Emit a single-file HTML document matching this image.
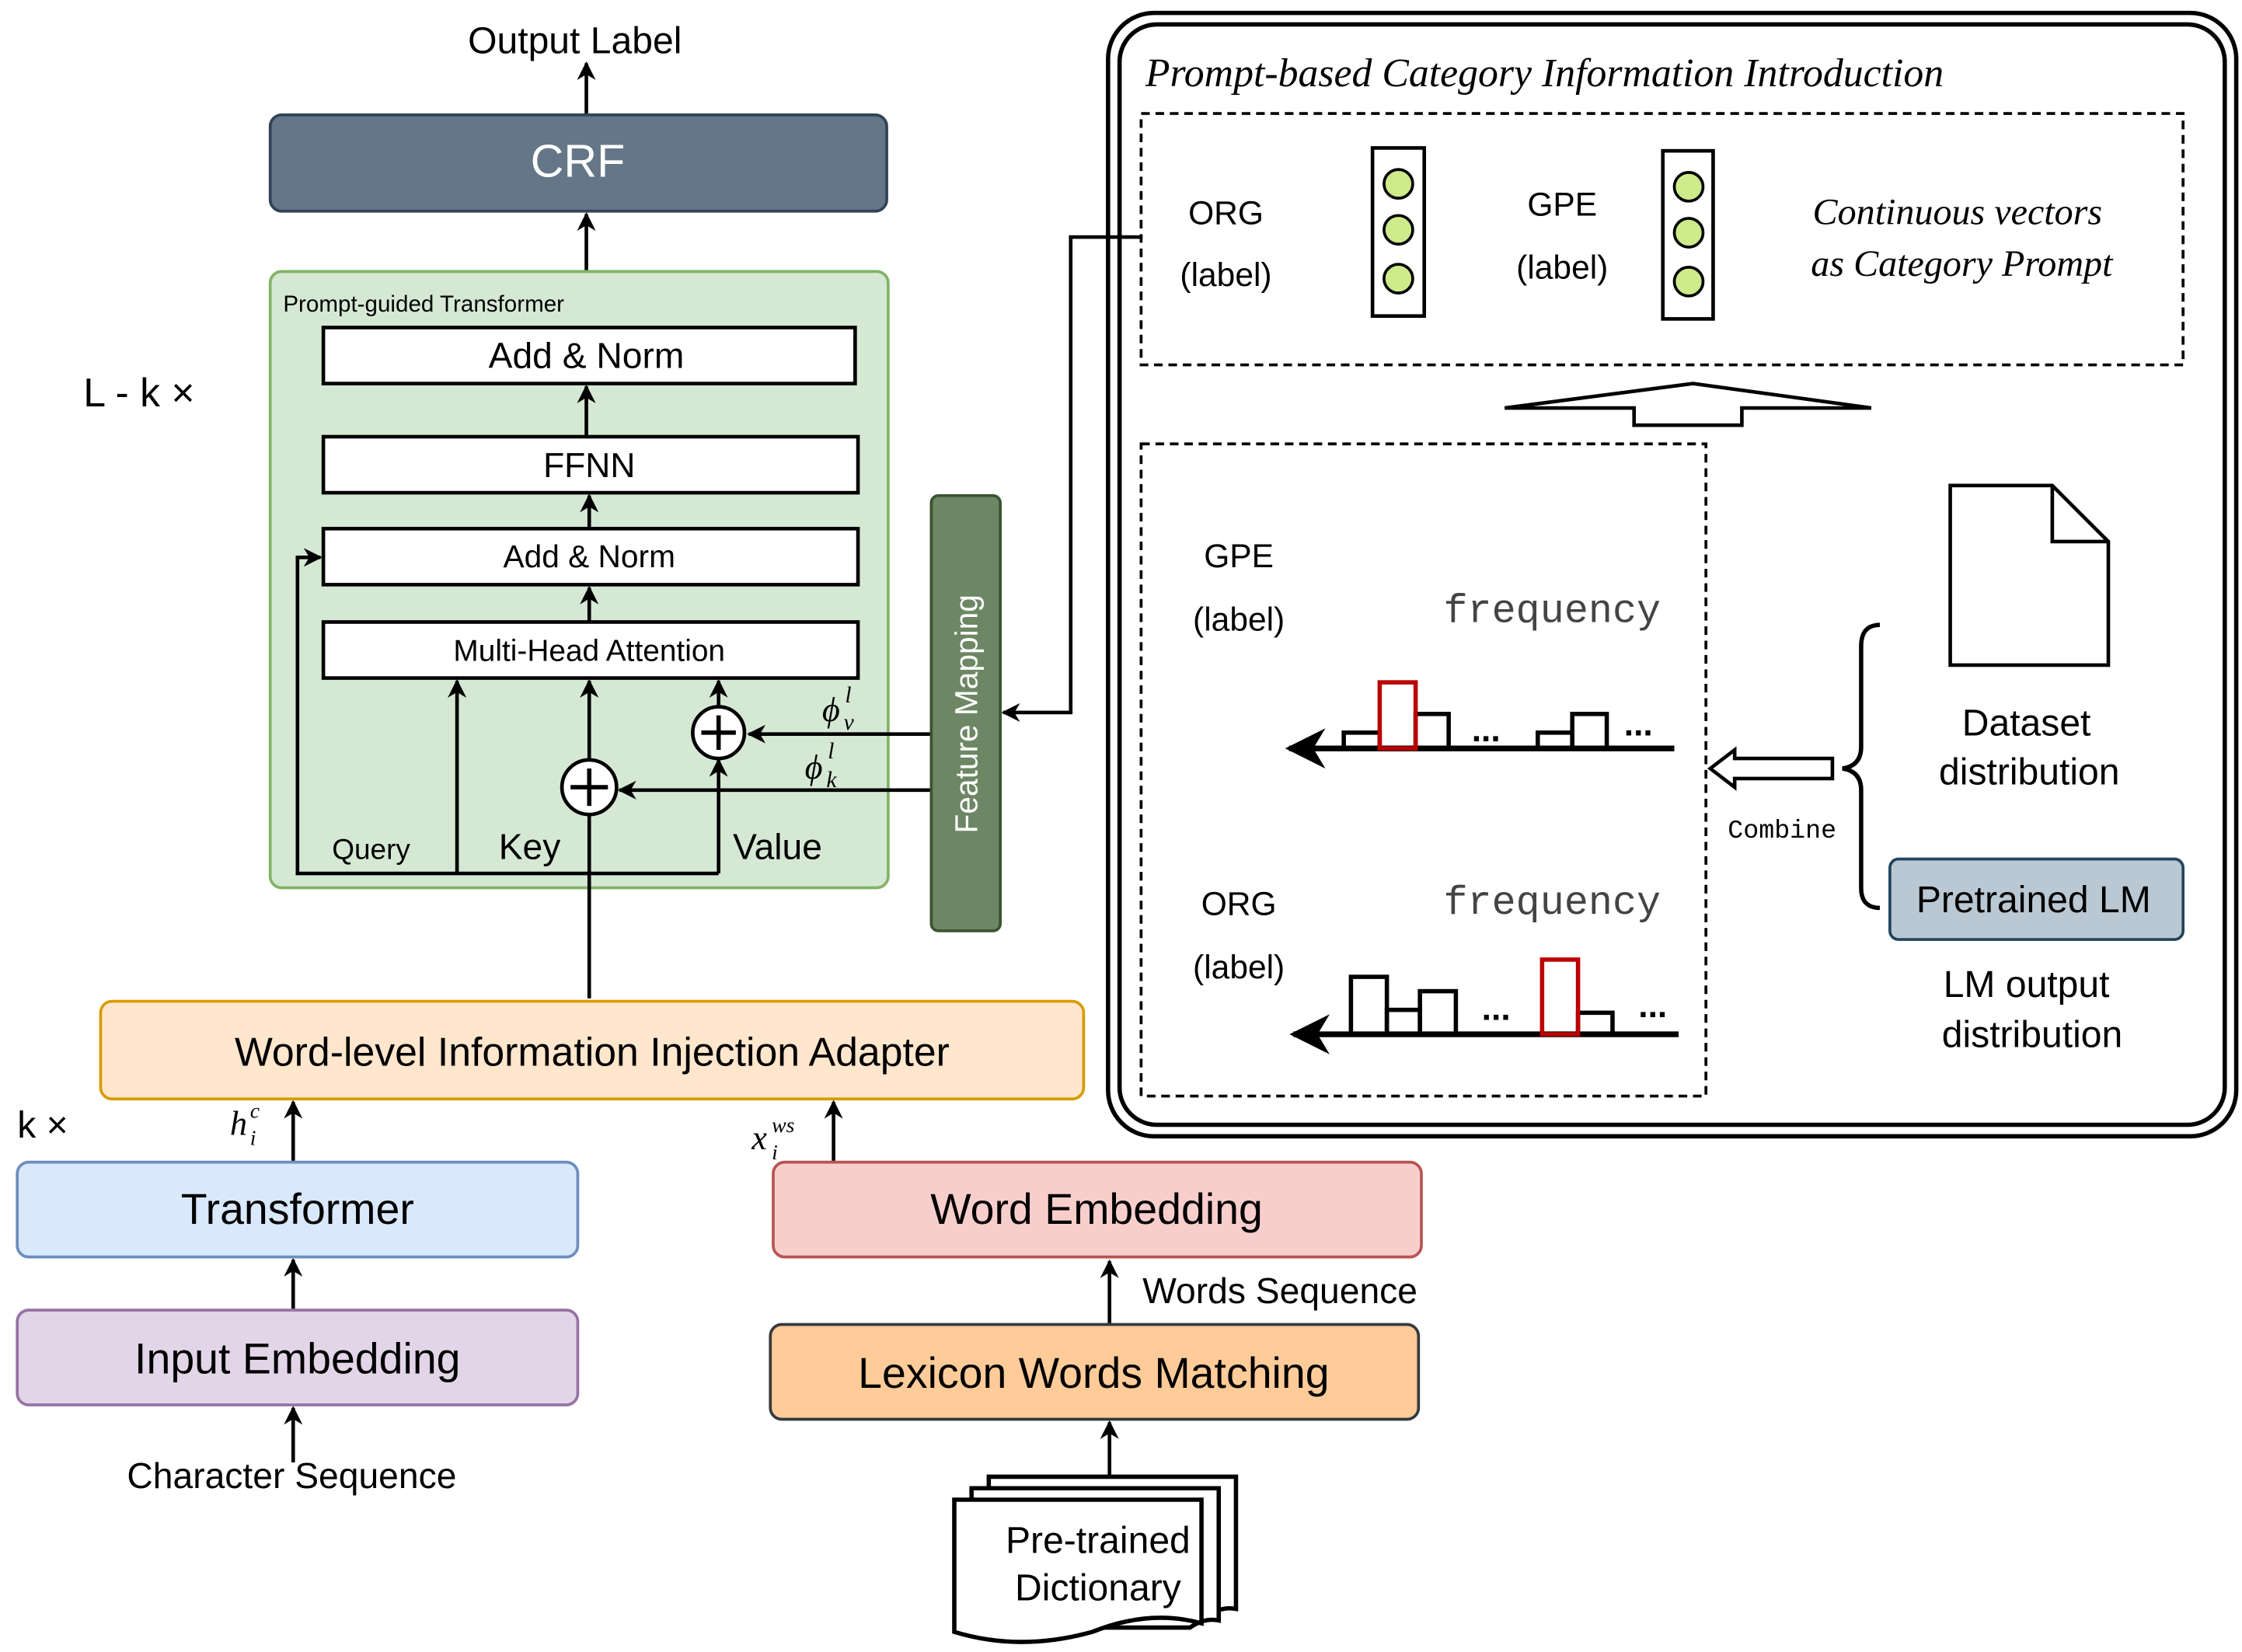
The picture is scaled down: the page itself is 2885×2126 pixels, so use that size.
<!DOCTYPE html>
<html><head><meta charset="utf-8"><style>html,body{margin:0;padding:0;background:#fff}svg{display:block}</style></head><body>
<svg width="2885" height="2126" viewBox="0 0 1560 1150" preserveAspectRatio="none" xmlns="http://www.w3.org/2000/svg" font-family="Liberation Sans, sans-serif">
<defs>
<marker id="a" viewBox="0 0 10 10" refX="9" refY="5" markerWidth="13" markerHeight="13" orient="auto-start-reverse" markerUnits="userSpaceOnUse"><path d="M0,0 L10,5 L0,10 L3,5 z" fill="#000"/></marker>
<marker id="b" viewBox="0 0 10 10" refX="9" refY="5" markerWidth="28" markerHeight="28" orient="auto" markerUnits="userSpaceOnUse"><path d="M0,0 L10,5 L0,10 L3,5 z" fill="#000"/></marker>
</defs>
<g stroke="#000" stroke-width="2.5" fill="none">
<line x1="408" y1="80" x2="408" y2="44" marker-end="url(#a)"/>
<line x1="408" y1="188" x2="408" y2="149" marker-end="url(#a)"/>
</g>
<text x="400" y="37" font-size="26" text-anchor="middle">Output Label</text>
<rect x="188" y="80" width="429" height="67" rx="8" fill="#647687" stroke="#314354" stroke-width="2"/>
<text x="402" y="123" font-size="32" fill="#fff" text-anchor="middle">CRF</text>
<rect x="188" y="189" width="430" height="429" rx="8" fill="#d5e8d4" stroke="#82b366" stroke-width="2"/>
<text x="197" y="217" font-size="16">Prompt-guided Transformer</text>
<text x="58" y="283" font-size="28">L - k ×</text>
<g fill="#fff" stroke="#000" stroke-width="2.5">
<rect x="225" y="228" width="370" height="39"/>
<rect x="225" y="304" width="372" height="39"/>
<rect x="225" y="368" width="372" height="39"/>
<rect x="225" y="433" width="372" height="39"/>
</g>
<g text-anchor="middle">
<text x="408" y="256" font-size="25">Add &amp; Norm</text>
<text x="410" y="332" font-size="24">FFNN</text>
<text x="410" y="395" font-size="22">Add &amp; Norm</text>
<text x="410" y="460" font-size="21">Multi-Head Attention</text>
</g>
<g stroke="#000" stroke-width="2.5" fill="none">
<line x1="408" y1="304" x2="408" y2="269" marker-end="url(#a)"/>
<line x1="410" y1="368" x2="410" y2="345" marker-end="url(#a)"/>
<line x1="410" y1="433" x2="410" y2="409" marker-end="url(#a)"/>
<polyline points="500,608 207,608 207,388 223,388" marker-end="url(#a)"/>
<line x1="318" y1="608" x2="318" y2="474" marker-end="url(#a)"/>
<line x1="410" y1="695" x2="410" y2="568"/>
<line x1="410" y1="528" x2="410" y2="474" marker-end="url(#a)"/>
<line x1="500" y1="608" x2="500" y2="529" marker-end="url(#a)"/>
<line x1="500" y1="492" x2="500" y2="474" marker-end="url(#a)"/>
<line x1="648" y1="511" x2="521" y2="511" marker-end="url(#a)"/>
<line x1="648" y1="550" x2="431" y2="550" marker-end="url(#a)"/>
<circle cx="410" cy="548" r="19" fill="#fff"/>
<circle cx="500" cy="510" r="18" fill="#fff"/>
<path d="M397,548 h26 M410,535 v26 M488,510 h24 M500,498 v24" stroke-width="3"/>
<polyline points="795,165 745,165 745,496 698,496" marker-end="url(#a)"/>
</g>
<text x="231" y="598" font-size="20">Query</text>
<text x="347" y="598" font-size="25">Key</text>
<text x="510" y="598" font-size="25">Value</text>
<g font-style="italic" font-family="Liberation Serif, serif">
<text x="572" y="502" font-size="24">ϕ</text><text x="588" y="489" font-size="16">l</text><text x="587" y="508" font-size="16">v</text>
<text x="560" y="542" font-size="24">ϕ</text><text x="576" y="528" font-size="16">l</text><text x="575" y="548" font-size="16">k</text>
<text x="160" y="790" font-size="24">h</text><text x="174" y="778" font-size="15">c</text><text x="174" y="797" font-size="15">i</text>
<text x="523" y="800" font-size="24">x</text><text x="537" y="788" font-size="15">ws</text><text x="537" y="807" font-size="15">i</text>
</g>
<rect x="648" y="345" width="48" height="303" rx="5" fill="#6d8764" stroke="#3a5431" stroke-width="2"/>
<text transform="translate(680,497) rotate(-90)" font-size="22" fill="#fff" text-anchor="middle">Feature Mapping</text>
<rect x="70" y="697" width="684" height="68" rx="8" fill="#ffe6cc" stroke="#d79b00" stroke-width="2"/>
<text x="412" y="742" font-size="28" text-anchor="middle">Word-level Information Injection Adapter</text>
<text x="12" y="792" font-size="26">k ×</text>
<rect x="12" y="809" width="390" height="66" rx="8" fill="#dae8fc" stroke="#6c8ebf" stroke-width="2"/>
<text x="207" y="852" font-size="30" text-anchor="middle">Transformer</text>
<rect x="12" y="912" width="390" height="66" rx="8" fill="#e1d5e7" stroke="#9673a6" stroke-width="2"/>
<text x="207" y="956" font-size="30" text-anchor="middle">Input Embedding</text>
<text x="203" y="1036" font-size="25" text-anchor="middle">Character Sequence</text>
<rect x="538" y="809" width="451" height="66" rx="8" fill="#f8cecc" stroke="#b85450" stroke-width="2"/>
<text x="763" y="852" font-size="30" text-anchor="middle">Word Embedding</text>
<rect x="536" y="922" width="451" height="66" rx="8" fill="#ffcc99" stroke="#36393d" stroke-width="2"/>
<text x="761" y="966" font-size="30" text-anchor="middle">Lexicon Words Matching</text>
<text x="795" y="907" font-size="25">Words Sequence</text>
<g stroke="#000" stroke-width="2.5" fill="none">
<line x1="204" y1="808" x2="204" y2="767" marker-end="url(#a)"/>
<line x1="204" y1="911" x2="204" y2="877" marker-end="url(#a)"/>
<line x1="204" y1="1018" x2="204" y2="980" marker-end="url(#a)"/>
<line x1="580" y1="808" x2="580" y2="767" marker-end="url(#a)"/>
<line x1="772" y1="921" x2="772" y2="878" marker-end="url(#a)"/>
<line x1="772" y1="1028" x2="772" y2="990" marker-end="url(#a)"/>
</g>
<g stroke="#000" stroke-width="3" fill="#fff">
<path d="M688,1028 H860 V1120 Q850,1118 840,1125 L688,1125 Z"/>
<path d="M676,1036 H848 V1128 Q838,1126 828,1133 L676,1133 Z"/>
<path d="M664,1044 H836 V1130 Q800,1120 760,1136 Q710,1150 664,1136 Z"/>
</g>
<text x="764" y="1081" font-size="26" text-anchor="middle">Pre-trained</text>
<text x="764" y="1114" font-size="26" text-anchor="middle">Dictionary</text>
<rect x="771" y="9" width="785" height="782" rx="32" fill="none" stroke="#000" stroke-width="3"/>
<rect x="779" y="17" width="769" height="766" rx="26" fill="none" stroke="#000" stroke-width="3"/>
<text x="797" y="60" font-size="28" font-style="italic" font-family="Liberation Serif, serif">Prompt-based Category Information Introduction</text>
<rect x="794" y="79" width="725" height="175" fill="none" stroke="#000" stroke-width="2" stroke-dasharray="6,4"/>
<g font-size="23" text-anchor="middle">
<text x="853" y="156">ORG</text><text x="853" y="199">(label)</text>
<text x="1087" y="150">GPE</text><text x="1087" y="194">(label)</text>
<text x="862" y="395">GPE</text><text x="862" y="439">(label)</text>
<text x="862" y="637">ORG</text><text x="862" y="681">(label)</text>
</g>
<g stroke="#000" stroke-width="2.5">
<rect x="955" y="103" width="36" height="117" fill="#fff"/>
<rect x="1157" y="105" width="35" height="117" fill="#fff"/>
<g fill="#cdeb8b" stroke-width="2"><circle cx="973" cy="128" r="10"/><circle cx="973" cy="160" r="10"/><circle cx="973" cy="194" r="10"/><circle cx="1175" cy="130" r="10"/><circle cx="1175" cy="162" r="10"/><circle cx="1175" cy="196" r="10"/></g>
</g>
<g font-size="26" font-style="italic" font-family="Liberation Serif, serif" text-anchor="middle">
<text x="1362" y="156">Continuous vectors</text><text x="1365" y="192">as Category Prompt</text>
</g>
<polygon points="1047,284 1178,267 1302,284 1212,284 1212,296 1137,296 1137,284" fill="#fff" stroke="#000" stroke-width="2.5"/>
<rect x="794" y="309" width="393" height="454" fill="none" stroke="#000" stroke-width="2" stroke-dasharray="6,4"/>
<g font-family="Liberation Mono, monospace" font-size="28" fill="#444" text-anchor="middle">
<text x="1080" y="433">frequency</text><text x="1080" y="636">frequency</text>
</g>
<g stroke="#000" stroke-width="3" fill="none">
<line x1="1165" y1="521" x2="897" y2="521" marker-end="url(#b)" stroke-width="4"/>
<rect x="935" y="510" width="25" height="11"/><rect x="985" y="497" width="23" height="24"/>
<rect x="1070" y="510" width="24" height="11"/><rect x="1094" y="497" width="24" height="24"/>
<rect x="960" y="475" width="25" height="46" stroke="#b00" />
<line x1="1168" y1="720" x2="900" y2="720" marker-end="url(#b)" stroke-width="4"/>
<rect x="940" y="680" width="25" height="40"/><rect x="965" y="703" width="23" height="17"/><rect x="988" y="690" width="25" height="30"/>
<rect x="1098" y="705" width="24" height="15"/>
<rect x="1073" y="668" width="25" height="52" stroke="#b00"/>
</g>
<g font-size="24" font-weight="bold"><text x="1024" y="516">...</text><text x="1130" y="512">...</text><text x="1031" y="710">...</text><text x="1140" y="708">...</text></g>
<polygon points="1190,535 1207,522 1207,528 1275,528 1275,542 1207,542 1207,548" fill="#fff" stroke="#000" stroke-width="2.5"/>
<text x="1240" y="583" font-size="18" font-family="Liberation Mono, monospace" text-anchor="middle">Combine</text>
<path d="M1308,435 Q1295,435 1295,450 L1295,520 Q1295,533 1282,535 Q1295,537 1295,550 L1295,618 Q1295,632 1308,632" fill="none" stroke="#000" stroke-width="3"/>
<path d="M1357,338 H1428 L1467,377 V463 H1357 Z M1428,338 V377 H1467" fill="#fff" stroke="#000" stroke-width="2.5"/>
<g font-size="26" text-anchor="middle">
<text x="1410" y="512">Dataset</text><text x="1412" y="546">distribution</text>
<text x="1410" y="694">LM output</text><text x="1414" y="729">distribution</text>
</g>
<rect x="1315" y="598" width="204" height="56" rx="6" fill="#bac8d3" stroke="#23445d" stroke-width="2"/>
<text x="1415" y="635" font-size="26" text-anchor="middle">Pretrained LM</text>
</svg>
</body></html>
